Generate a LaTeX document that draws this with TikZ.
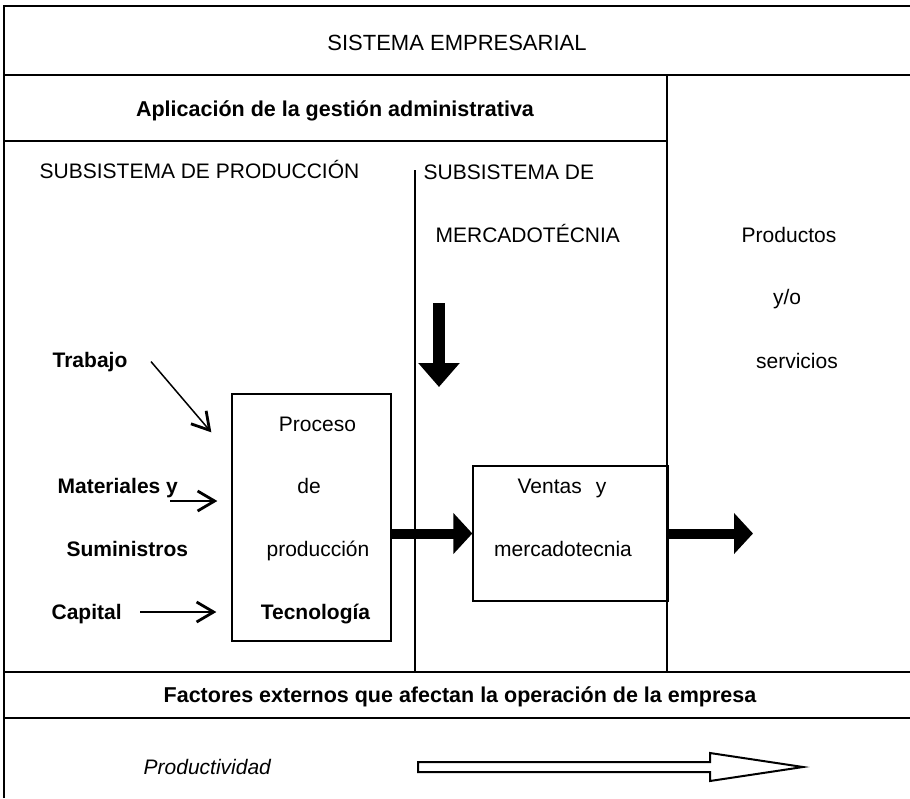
\documentclass[tikz,border=0pt]{standalone}
\usepackage{fontspec}
\setmainfont{Liberation Sans}
\usetikzlibrary{arrows.meta}

\begin{document}
\begin{tikzpicture}[x=1pt, y=-1pt, font=\fontsize{21}{25}\selectfont, line width=1.3pt,
    >={Straight Barb[length=17pt, width=20pt, line width=2.8pt]},
    txt/.style={inner sep=0pt, anchor=base},
    ltxt/.style={inner sep=0pt, anchor=base west},
    btxt/.style={ltxt, font=\fontsize{21}{25}\selectfont\bfseries},
    thin/.style={->, line width=1.5pt},
    bigarrow/.style={line width=10pt, -{Triangle[length=19pt, width=40pt]}}]
  \useasboundingbox (0,0) rectangle (910,798);

  % frame
  \draw (4,798) -- (4,6) -- (910,6);
  \draw (4,75) -- (910,75);
  \draw (4,141) -- (667,141);
  \draw (667,75) -- (667,672);
  \draw (415,170) -- (415,672);
  \draw (4,672) -- (910,672);
  \draw (4,718) -- (910,718);

  % titles
  \node[txt, font=\fontsize{22}{25}\selectfont] (sistema) at (457,50) {SISTEMA EMPRESARIAL};
  \node[txt, font=\fontsize{21.5}{25}\selectfont\bfseries] (gestion) at (335,116) {Aplicación de la gestión administrativa};
  \node[ltxt] (prod) at (39,178) {SUBSISTEMA DE PRODUCCIÓN};
  \node[ltxt] (merc1) at (423,179) {SUBSISTEMA DE};
  \node[ltxt] (merc2) at (435,242) {MERCADOTÉCNIA};

  % outputs
  \node[txt] (salida1) at (789,242) {Productos};
  \node[txt] (salida2) at (787,304) {y/o};
  \node[txt] (salida3) at (797,368) {servicios};

  % inputs
  \node[btxt] (trabajo) at (52,367) {Trabajo};
  \node[btxt] (materiales) at (57,493) {Materiales y};
  \node[btxt] (suministros) at (66,556) {Suministros};
  \node[btxt] (capital) at (51,619) {Capital};

  % boxes
  \node[draw, minimum width=159pt, minimum height=247pt] (proceso) at (311.5,517.5) {};
  \node[txt] (proc1) at (317.5,431) {Proceso};
  \node[txt] (proc2) at (309,493) {de};
  \node[txt] (proc3) at (318,556) {producción};
  \node[txt, font=\fontsize{21}{25}\selectfont\bfseries] (proc4) at (315.5,619) {Tecnología};

  \node[draw, minimum width=195pt, minimum height=135pt] (ventas) at (570.5,533.5) {};
  \node[txt] (vent1) at (562,493) {Ventas\hspace{14pt}y};
  \node[txt] (vent2) at (563,556) {mercadotecnia};

  % input arrows
  \coordinate (mat) at (170,501);
  \coordinate (cap) at (140,612);
  \draw[thin] ([shift={(23,0)}]trabajo.east) -- ([shift={(-20,39)}]proceso.north west);
  \draw[thin] (mat) -- ([xshift=-14pt]proceso.west |- mat);
  \draw[thin] (cap) -- ([xshift=-15pt]proceso.west |- cap);

  % thick arrows
  \coordinate (mktop) at (439,303);
  \coordinate (mkbot) at (439,387);
  \coordinate (fin) at (753,533.5);
  \draw[line width=12pt, -{Triangle[length=24pt, width=40pt]}] (mktop) -- (mkbot);
  \draw[bigarrow] (proceso.east |- ventas.west) -- (ventas.west);
  \draw[bigarrow] (ventas.east) -- (fin);

  % bottom
  \node[txt, font=\fontsize{21.5}{25}\selectfont\bfseries] (factores) at (460,702) {Factores externos que afectan la operación de la empresa};
  \node[ltxt, font=\fontsize{21}{25}\selectfont\itshape] (productividad) at (143,774) {Productividad};
  \draw[line width=2pt, line join=miter] (418,762) -- (710,762) -- (710,753) -- (803,767)
    -- (710,781) -- (710,772) -- (418,772) -- cycle;
\end{tikzpicture}
\end{document}
